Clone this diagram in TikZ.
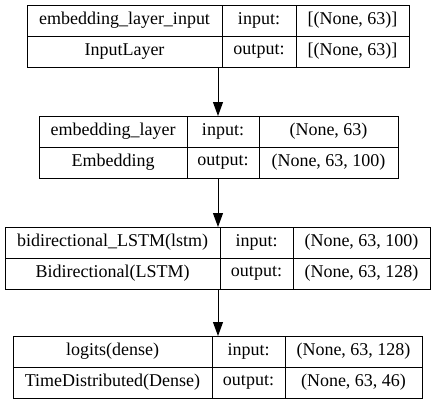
\documentclass[tikz,border=0pt]{standalone}
\usepackage{fontspec}
\setmainfont{Liberation Serif}
\usetikzlibrary{positioning,arrows.meta}
\tikzstyle{cell}=[draw,rectangle,minimum height=31pt,inner sep=0pt,outer sep=0pt,
    font=\fontsize{18}{21}\selectfont]
\newcommand{\newCell}[4]{\node[cell,minimum width=#3pt,#4](#1){#2};}
\newcommand{\newArrow}[2]{\draw[->] (#1 -| axis) -- (#2 -| axis);}

\begin{document}
\begin{tikzpicture}[x=1pt,y=-1pt,node distance=0pt,
    >={Triangle[length=14pt,width=10pt]},
    line width=1pt  %thin lines like graphviz
    ]
    \useasboundingbox (0,0) rectangle (437,405);
    \coordinate (axis) at (218,0);
    % input layer
    \newCell{inName}{embedding\_layer\_input}{195}{anchor=north west,at={(27,5)}}
    \newCell{inIn}{input:}{74}{right=of inName}
    \newCell{inInShape}{[(None, 63)]}{113}{right=of inIn}
    \newCell{inType}{InputLayer}{195}{below=of inName}
    \newCell{inOut}{output:}{74}{below=of inIn}
    \newCell{inOutShape}{[(None, 63)]}{113}{below=of inInShape}
    % embedding
    \newCell{embName}{embedding\_layer}{148}{anchor=north west,at={(39,116)}}
    \newCell{embIn}{input:}{72}{right=of embName}
    \newCell{embInShape}{(None, 63)}{139}{right=of embIn}
    \newCell{embType}{Embedding}{148}{below=of embName}
    \newCell{embOut}{output:}{72}{below=of embIn}
    \newCell{embOutShape}{(None, 63, 100)}{139}{below=of embInShape}
    % lstm
    \newCell{lstmName}{bidirectional\_LSTM(lstm)}{215}{anchor=north west,at={(5,227)}}
    \newCell{lstmIn}{input:}{73}{right=of lstmName}
    \newCell{lstmInShape}{(None, 63, 100)}{137}{right=of lstmIn}
    \newCell{lstmType}{Bidirectional(LSTM)}{215}{below=of lstmName}
    \newCell{lstmOut}{output:}{73}{below=of lstmIn}
    \newCell{lstmOutShape}{(None, 63, 128)}{137}{below=of lstmInShape}
    % dense
    \newCell{denseName}{logits(dense)}{199}{anchor=north west,at={(13,336)}}
    \newCell{denseIn}{input:}{73}{right=of denseName}
    \newCell{denseInShape}{(None, 63, 128)}{137}{right=of denseIn}
    \newCell{denseType}{TimeDistributed(Dense)}{199}{below=of denseName}
    \newCell{denseOut}{output:}{73}{below=of denseIn}
    \newCell{denseOutShape}{(None, 63, 46)}{137}{below=of denseInShape}
    \newArrow{inType.south}{embName.north}
    \newArrow{embType.south}{lstmName.north}
    \newArrow{lstmType.south}{denseName.north}
\end{tikzpicture}
\end{document}
